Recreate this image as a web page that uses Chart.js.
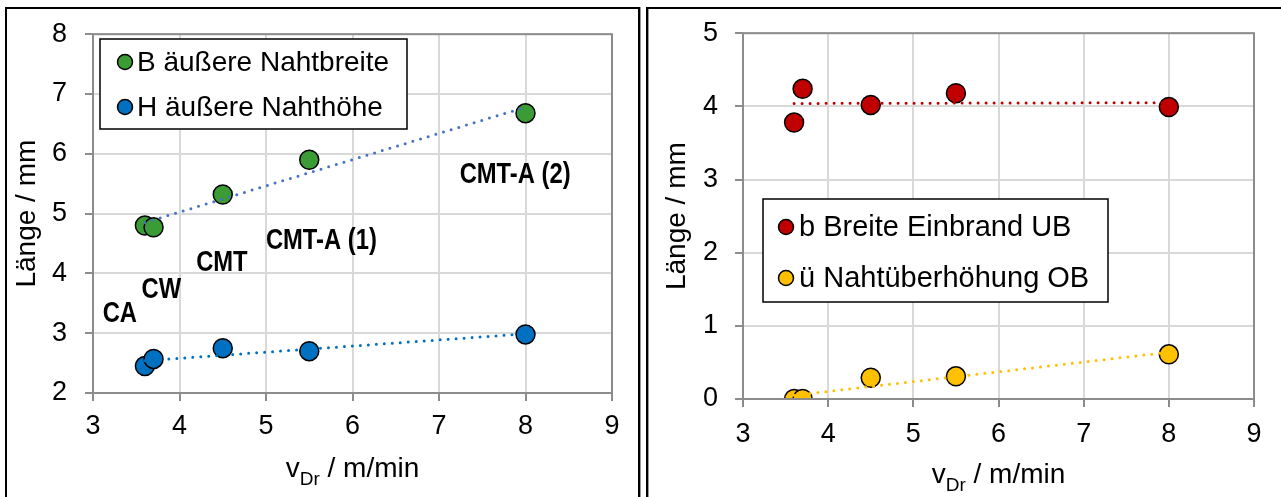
<!DOCTYPE html>
<html>
<head>
<meta charset="utf-8">
<script src="https://cdn.jsdelivr.net/npm/chart.js@4.4.1/dist/chart.umd.min.js"></script>
<style>
    body { margin: 0; background: #fff; width: 1281px; height: 497px; overflow: hidden; position: relative; }
    .panel { position: absolute; top: 7px; height: 520px; border-top: 2px solid #000; box-sizing: border-box; }
    #panel-left { left: 5px; width: 635px; border-left: 2px solid #000; border-right: 2px solid #000; box-shadow: 1px 0 0 #999; }
    #panel-right { left: 646px; width: 640px; border-left: 2px solid #000; box-shadow: inset 1px 0 0 #999; }
    .wrap { position: absolute; top: 0; height: 497px; }
    #wrap-left { left: 0; width: 638px; }
    #wrap-right { left: 645px; width: 636px; }
</style>
</head>
<body>
<div class="panel" id="panel-left"></div>
<div class="panel" id="panel-right"></div>
<div class="wrap" id="wrap-left"><canvas id="chartLeft"></canvas></div>
<div class="wrap" id="wrap-right"><canvas id="chartRight"></canvas></div>
<script>
// drahtvorschub (x) und gemessene werte
const vDraht = [3.6, 3.7, 4.5, 5.5, 8];
const nahtBreite = [4.8, 4.77, 5.32, 5.9, 6.68];
const nahtHoehe = [2.45, 2.57, 2.75, 2.70, 2.98];
const einbrandBreite = [3.78, 4.24, 4.02, 4.18, 3.99];
const nahtUeberhoehung = [0, 0, 0.29, 0.31, 0.61];

// trendlinien (endpunkte)
const trendX = [3.6, 8];
const trendBreite = [4.85, 6.78];
const trendHoehe = [2.54, 2.99];
const trendEinbrand = [4.04, 4.05];
const trendUeber = [0.05, 0.64];

// prozessbeschriftungen im linken diagramm
const verfahren = ['CA', 'CW', 'CMT', 'CMT-A (1)', 'CMT-A (2)'];
const verfahrenX = [3.31, 3.79, 4.49, 5.64, 7.88];
const verfahrenY = [3.32, 3.72, 4.18, 4.55, 5.65];

const FONT = "'Liberation Sans', Arial, sans-serif";

function toPoints(xs, ys) {
    return xs.map((x, i) => ({ x: x, y: ys[i] }));
}

function markerSet(label, xs, ys, color) {
    return {
        label: label,
        data: toPoints(xs, ys),
        showLine: false,
        pointRadius: 9.5,
        pointHoverRadius: 9.5,
        pointBorderWidth: 1.5,
        pointBorderColor: '#000',
        pointBackgroundColor: color,
        order: 1
    };
}

function trendSet(xs, ys, color) {
    return {
        label: 'trend',
        data: toPoints(xs, ys),
        showLine: true,
        borderColor: color,
        borderWidth: 3,
        borderDash: [0, 8],
        borderCapStyle: 'round',
        pointRadius: 0,
        fill: false,
        order: 0
    };
}

// rahmen um die zeichenfläche
const plotFrame = {
    id: 'plotFrame',
    afterDatasetsDraw(chart) {
        const a = chart.chartArea;
        const ctx = chart.ctx;
        ctx.save();
        ctx.strokeStyle = '#8c8c8c';
        ctx.lineWidth = 2;
        ctx.strokeRect(a.left, a.top, a.right - a.left, a.bottom - a.top);
        ctx.restore();
    }
};

// legende und achsentitel
const extras = {
    id: 'extras',
    afterDraw(chart, args, opts) {
        const ctx = chart.ctx;
        const a = chart.chartArea;
        const xs = chart.scales.x, ys = chart.scales.y;
        ctx.save();

        // process labels (schmale fette schrift)
        (opts.labels || []).forEach(l => {
            ctx.save();
            ctx.translate(xs.getPixelForValue(l.x), ys.getPixelForValue(l.y));
            ctx.scale(0.82, 1);
            ctx.font = 'bold 29px ' + FONT;
            ctx.fillStyle = '#000';
            ctx.textAlign = 'center';
            ctx.textBaseline = 'middle';
            ctx.fillText(l.text, 0, 0);
            ctx.restore();
        });

        // legend box
        const lg = opts.legend;
        ctx.fillStyle = '#fff';
        ctx.fillRect(lg.x, lg.y, lg.w, lg.h);
        ctx.strokeStyle = '#000';
        ctx.lineWidth = 1.5;
        ctx.strokeRect(lg.x, lg.y, lg.w, lg.h);
        ctx.font = lg.size + 'px ' + FONT;
        ctx.textAlign = 'left';
        ctx.textBaseline = 'middle';
        lg.rows.forEach(r => {
            ctx.beginPath();
            ctx.arc(lg.markerX, r.y, 7.5, 0, Math.PI * 2);
            ctx.fillStyle = r.color;
            ctx.fill();
            ctx.lineWidth = 1.5;
            ctx.strokeStyle = '#000';
            ctx.stroke();
            ctx.fillStyle = '#000';
            ctx.fillText(r.text, lg.textX, r.y + 1);
        });

        // y title
        ctx.save();
        ctx.translate(opts.yTitleX, (a.top + a.bottom) / 2);
        ctx.rotate(-Math.PI / 2);
        ctx.font = '28px ' + FONT;
        ctx.textAlign = 'center';
        ctx.textBaseline = 'middle';
        ctx.fillStyle = '#000';
        ctx.fillText('Länge / mm', 0, 0);
        ctx.restore();

        // x title with subscript
        const big = '28px ' + FONT, small = '19px ' + FONT;
        ctx.textBaseline = 'alphabetic';
        ctx.textAlign = 'left';
        ctx.font = big;
        const w1 = ctx.measureText('v').width;
        const w3 = ctx.measureText(' / m/min').width;
        ctx.font = small;
        const w2 = ctx.measureText('Dr').width;
        let x = (a.left + a.right) / 2 - (w1 + w2 + w3) / 2;
        const base = opts.xTitleBase;
        ctx.fillStyle = '#000';
        ctx.font = big;
        ctx.fillText('v', x, base);
        x += w1;
        ctx.font = small;
        ctx.fillText('Dr', x, base + 8);
        x += w2;
        ctx.font = big;
        ctx.fillText(' / m/min', x, base);

        ctx.restore();
    }
};

function makeChart(id, cfg) {
    return new Chart(document.getElementById(id), {
        type: 'scatter',
        data: { datasets: cfg.datasets },
        options: {
            responsive: true,
            maintainAspectRatio: false,
            animation: false,
            events: [],
            layout: { padding: { top: 33, right: cfg.padRight, left: 0, bottom: 0 } },
            plugins: {
                legend: { display: false },
                tooltip: { enabled: false },
                extras: cfg.extras
            },
            scales: {
                x: {
                    type: 'linear',
                    min: 3, max: 9,
                    afterFit: s => { s.height = cfg.xHeight; },
                    ticks: { stepSize: 1, color: '#000', font: { family: FONT, size: 27 }, padding: cfg.xPad },
                    grid: { color: '#d9d9d9', lineWidth: 2, tickColor: '#8c8c8c', tickLength: 8, tickWidth: 2 },
                    border: { display: false }
                },
                y: {
                    type: 'linear',
                    min: cfg.yMin, max: cfg.yMax,
                    afterFit: s => { s.width = cfg.yWidth; },
                    ticks: { stepSize: 1, color: '#000', font: { family: FONT, size: 27 }, padding: cfg.yPad },
                    grid: { color: '#d9d9d9', lineWidth: 2, tickColor: '#8c8c8c', tickLength: 8, tickWidth: 2 },
                    border: { display: false }
                }
            }
        },
        plugins: [plotFrame, extras]
    });
}

makeChart('chartLeft', {
    datasets: [
        trendSet(trendX, trendBreite, '#4472C4'),
        trendSet(trendX, trendHoehe, '#0070C0'),
        markerSet('B äußere Nahtbreite', vDraht, nahtBreite, '#3B9B35'),
        markerSet('H äußere Nahthöhe', vDraht, nahtHoehe, '#0070C0')
    ],
    padRight: 26, xHeight: 104, yWidth: 93, xPad: 9, yPad: 18,
    yMin: 2, yMax: 8,
    extras: {
        labels: verfahren.map((t, i) => ({ text: t, x: verfahrenX[i], y: verfahrenY[i] })),
        legend: {
            x: 100, y: 39, w: 307, h: 90, markerX: 125, textX: 137, size: 28,
            rows: [
                { text: 'B äußere Nahtbreite', color: '#3B9B35', y: 62 },
                { text: 'H äußere Nahthöhe', color: '#0070C0', y: 107 }
            ]
        },
        yTitleX: 27,
        xTitleBase: 477
    }
});

makeChart('chartRight', {
    datasets: [
        trendSet(trendX, trendEinbrand, '#C00000'),
        trendSet(trendX, trendUeber, '#FFC000'),
        markerSet('b Breite Einbrand UB', vDraht, einbrandBreite, '#C00000'),
        markerSet('ü Nahtüberhöhung OB', vDraht, nahtUeberhoehung, '#FFC000')
    ],
    padRight: 27, xHeight: 98, yWidth: 98, xPad: 11, yPad: 17,
    yMin: 0, yMax: 5,
    extras: {
        labels: [],
        legend: {
            x: 118, y: 199, w: 345, h: 103, markerX: 141, textX: 154, size: 29,
            rows: [
                { text: 'b Breite Einbrand UB', color: '#C00000', y: 227 },
                { text: 'ü Nahtüberhöhung OB', color: '#FFC000', y: 278 }
            ]
        },
        yTitleX: 32,
        xTitleBase: 483
    }
});
</script>
</body>
</html>
